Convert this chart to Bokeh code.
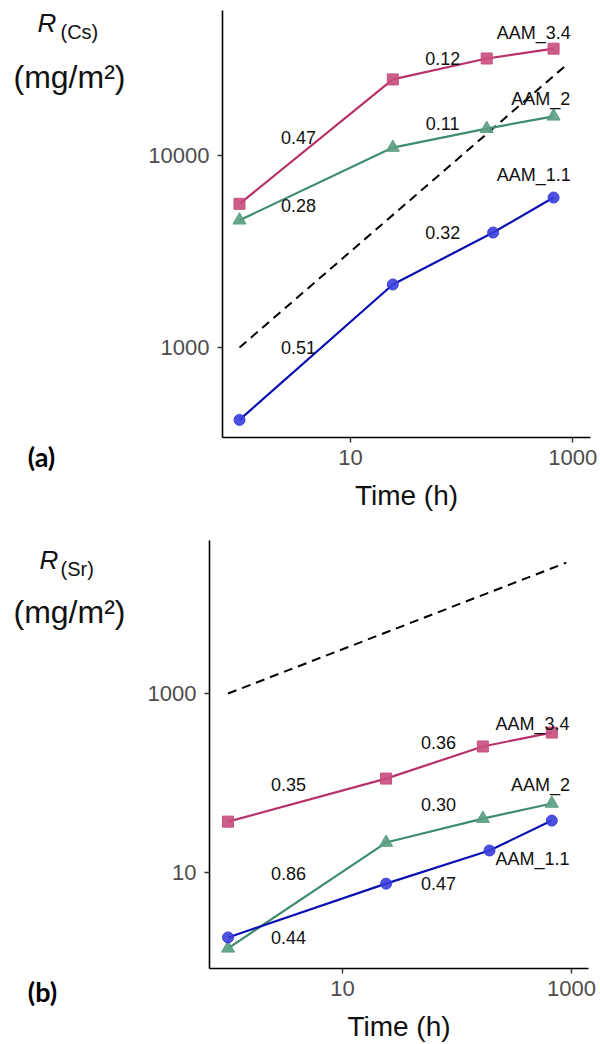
from bokeh.plotting import figure
from bokeh.models import FixedTicker, PrintfTickFormatter, Range1d, ColumnDataSource
from bokeh.layouts import row
from bokeh.embed import file_html
from bokeh.resources import INLINE
from bokeh.core.properties import value

# ---------------- data ----------------
series_names = ["AAM_3.4", "AAM_2", "AAM_1.1"]
time_aam34 = [1, 24, 168, 672]
time_aam2 = [1, 24, 168, 672]
time_aam11 = [1, 24, 192, 672]

cs_aam34 = [5600, 24900, 32000, 36000]
cs_aam2 = [4600, 11000, 13800, 16000]
cs_aam11 = [420, 2130, 3970, 6040]

sr_aam34 = [37, 112, 256, 366]
sr_aam2 = [1.42, 21.6, 40, 59]
sr_aam11 = [1.88, 7.5, 17.6, 38]

ref_time = [1, 900]
ref_cs = [1000, 30000]
ref_sr = [1000, 29000]

x_ticks = [10, 1000]
y_ticks_cs = [1000, 10000]
y_ticks_sr = [10, 1000]

# slope annotations (text, time, value)
slope_cs_text = ["0.47", "0.12", "0.28", "0.11", "0.51", "0.32"]
slope_cs_t = [3.4, 67.5, 3.4, 67.5, 3.4, 67.5]
slope_cs_r = [12400, 32000, 5500, 14700, 1000, 3970]

slope_sr_text = ["0.35", "0.36", "0.86", "0.30", "0.44", "0.47"]
slope_sr_t = [3.37, 68.8, 3.37, 68.8, 3.37, 68.8]
slope_sr_r = [96, 284, 9.7, 57.5, 1.88, 7.5]

name_cs_t = [446, 515, 446]
name_cs_r = [43700, 19600, 7870]
name_sr_t = [456, 536, 456]
name_sr_r = [462, 96, 14.3]

FONT = "Liberation Sans"
LINE_COLORS = ["#B8326A", "#3F8C6F", "#0A10B2"]
MARK_COLORS = ["#C84E7E", "#5A9E82", "#3A3EDC"]
MARKERS = ["square", "triangle", "circle"]
MARK_SIZES = [11, 13, 11]
TEXT_W = 135  # width of the left strip that carries the y-title and panel tag


def title_strip(sub, top, fh, bt, bb, pos, tag, tag_x, tag_standoff):
    """left strip: y-axis title (R, subscript, unit) and panel tag, pixel coordinates"""
    f = figure(width=TEXT_W, frame_width=TEXT_W, frame_height=fh,
               min_border_left=0, min_border_right=0, min_border_top=bt,
               min_border_bottom=bb, x_range=Range1d(0, TEXT_W),
               y_range=Range1d(top + fh, top), y_axis_location=None,
               output_backend="svg", toolbar_location=None)
    f.outline_line_color = None
    f.grid.visible = False
    (rx, ry), (sx, sy), (mx, my) = pos
    f.text([rx], [ry], text=["R"], text_font=value(FONT), text_font_size="26px",
           text_font_style="italic", text_baseline="alphabetic", text_align="left",
           text_color="#111111")
    f.text([sx], [sy], text=[sub], text_font=value(FONT), text_font_size="20px",
           text_baseline="alphabetic", text_align="left", text_color="#111111")
    f.text([mx], [my], text=["(mg/m\u00b2)"], text_font=value(FONT),
           text_font_size="32px", text_baseline="alphabetic", text_align="left",
           text_color="#111111")
    ax = f.xaxis[0]
    ax.ticker = FixedTicker(ticks=[tag_x])
    ax.major_label_overrides = {tag_x: tag}
    ax.axis_line_color = None
    ax.major_tick_line_color = None
    ax.minor_tick_line_color = None
    ax.major_tick_out = 0
    ax.major_label_standoff = tag_standoff
    ax.major_label_text_font = "Lato"
    ax.major_label_text_font_style = "bold"
    ax.major_label_text_font_size = "27px"
    ax.major_label_text_color = "black"
    return f


def make_panel(times, values, ref_r, yticks, xr, yr, fw, fh, bl, br, bt, bb,
               s_text, s_t, s_r, n_t, n_r):
    p = figure(x_axis_type="log", y_axis_type="log", output_backend="svg",
               toolbar_location=None, frame_width=fw, frame_height=fh,
               min_border_left=bl, min_border_right=br, min_border_top=bt,
               min_border_bottom=bb, x_range=Range1d(*xr), y_range=Range1d(*yr))
    p.outline_line_color = None
    p.grid.visible = False
    p.background_fill_color = "white"
    p.border_fill_color = "white"

    for ax in (p.xaxis[0], p.yaxis[0]):
        ax.axis_line_color = "black"
        ax.axis_line_width = 1.6
        ax.major_tick_line_color = "#333333"
        ax.major_tick_line_width = 1.4
        ax.major_tick_out = 5
        ax.major_tick_in = 0
        ax.minor_tick_line_color = None
        ax.major_label_text_font = FONT
        ax.major_label_text_font_size = "22px"
        ax.major_label_text_color = "#4D4D4D"
        ax.formatter = PrintfTickFormatter(format="%d")
    p.xaxis.ticker = FixedTicker(ticks=x_ticks)
    p.yaxis.ticker = FixedTicker(ticks=yticks)
    p.xaxis.major_label_standoff = 7
    p.yaxis.major_label_standoff = 8
    p.xaxis.axis_label = "Time (h)"
    p.xaxis.axis_label_text_font = FONT
    p.xaxis.axis_label_text_font_size = "28px"
    p.xaxis.axis_label_text_font_style = "normal"
    p.xaxis.axis_label_text_color = "#111111"
    p.xaxis.axis_label_standoff = 12

    # reference dashed line
    p.line(ref_time, ref_r, line_color="black", line_width=2, line_dash="9 6")

    for i in range(3):
        src = ColumnDataSource(dict(t=times[i], r=values[i]))
        p.line("t", "r", source=src, line_color=LINE_COLORS[i], line_width=2.2)
        p.scatter("t", "r", source=src, marker=MARKERS[i], size=MARK_SIZES[i],
                  fill_color=MARK_COLORS[i], line_color=MARK_COLORS[i], fill_alpha=0.9)

    p.text(s_t, s_r, text=s_text, text_font=value(FONT), text_font_size="18px",
           text_align="center", text_baseline="middle", text_color="#111111")
    p.text(n_t, n_r, text=series_names, text_font=value(FONT), text_font_size="18px",
           text_align="center", text_baseline="middle", text_color="#111111")
    return p


pa = make_panel([time_aam34, time_aam2, time_aam11], [cs_aam34, cs_aam2, cs_aam11],
                ref_cs, y_ticks_cs, (0.703, 1445), (340, 56900),
                368, 427, 222 - TEXT_W, 10, 10, 85,
                slope_cs_text, slope_cs_t, slope_cs_r, name_cs_t, name_cs_r)
ta = title_strip("(Cs)", 10, 427, 10, 85,
                 ((37, 22), (60, 31), (13, 76)), "(a)", 41, 2)

pb = make_panel([time_aam34, time_aam2, time_aam11], [sr_aam34, sr_aam2, sr_aam11],
                ref_sr, y_ticks_sr, (0.689, 1406), (0.845, 51300),
                379, 428, 209 - TEXT_W, 12, 18, 74,
                slope_sr_text, slope_sr_t, slope_sr_r, name_sr_t, name_sr_r)
tb = title_strip("(Sr)", 18, 428, 18, 74,
                 ((39, 37), (60, 46), (13, 89)), "(b)", 42, 6)

open("out.html", "w").write(file_html([row(ta, pa), row(tb, pb)], INLINE))
